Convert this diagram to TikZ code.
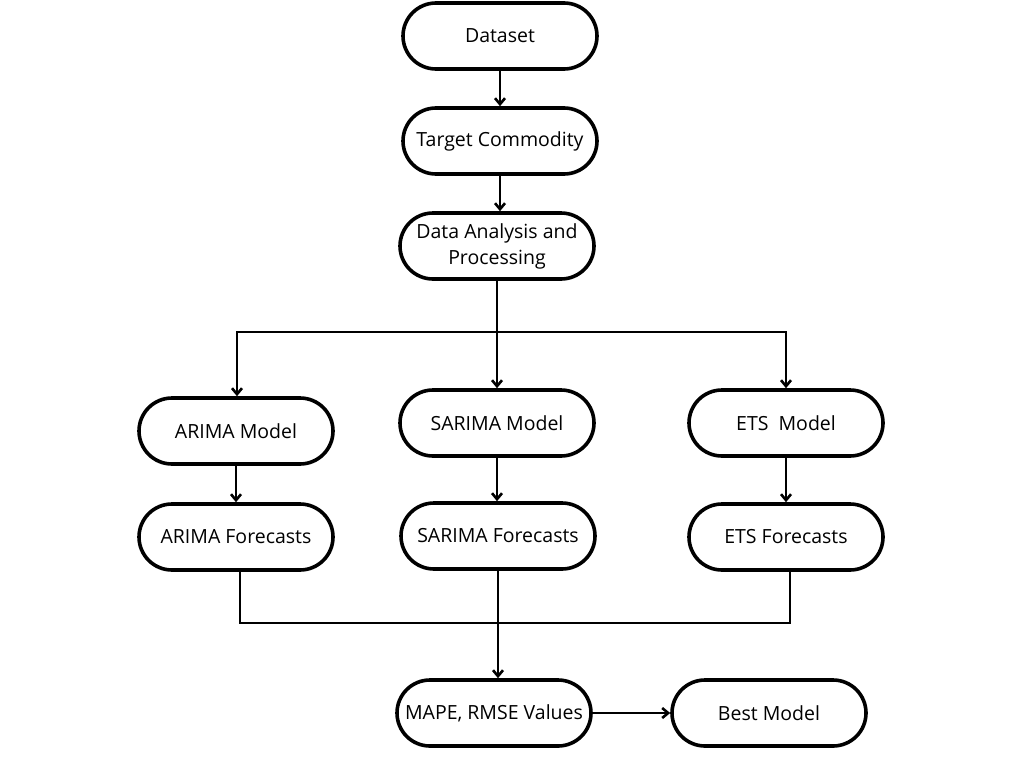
\documentclass[tikz,border=0pt]{standalone}
\usepackage{fontspec}
\setmainfont{Open Sans}
\usetikzlibrary{shapes.misc,arrows.meta}
\begin{document}
\begin{tikzpicture}[x=1pt,y=-1pt,
  stadium/.style={rounded rectangle, draw=black, line width=3.6pt, fill=white,
    minimum width=198pt, minimum height=66pt, inner sep=2pt, align=center,
    font=\fontsize{19.5}{26}\selectfont},
  arr/.style={line width=2.8pt, -{Straight Barb[length=6pt,width=10pt,line width=2.6pt]}},
  ln/.style={line width=2.6pt}]
\useasboundingbox (0,0) rectangle (1024,768);
\fill[white] (0,0) rectangle (1024,768);
\node[stadium] (ds) at (500,36) {Dataset};
\node[stadium] (tc) at (500,141) {Target Commodity};
\node[stadium] (dap) at (497,246) {Data Analysis and\\Processing};
\node[stadium] (arima) at (236,431) {ARIMA Model};
\node[stadium] (sarima) at (497,423) {SARIMA Model};
\node[stadium] (ets) at (786,423) {ETS~ Model};
\node[stadium] (af) at (236,537) {ARIMA Forecasts};
\node[stadium] (sf) at (498,536) {SARIMA Forecasts};
\node[stadium] (ef) at (786,537) {ETS Forecasts};
\node[stadium] (mape) at (494,713) {MAPE, RMSE Values};
\node[stadium] (best) at (769,713) {Best Model};
\coordinate (split) at (497,332);
\coordinate (merge) at (497,623);
\draw[arr] (ds.south) -- (tc.north);
\draw[arr] (tc.south) -- (tc.south |- dap.north);
\draw[arr] (dap.south) -- (sarima.north);
\draw[arr] (split) -| ([xshift=1pt]arima.north);
\draw[arr] (split) -| (ets.north);
\draw[arr] (arima.south) -- (af.north);
\draw[arr] (sarima.south) -- (sarima.south |- sf.north);
\draw[arr] (ets.south) -- (ef.north);
\draw[ln] ([xshift=4pt]af.south) |- (merge);
\draw[ln] ([xshift=4pt]ef.south) |- (merge);
\draw[arr] (sf.south) -- (sf.south |- mape.north);
\draw[arr] (mape.east) -- (best.west);
\end{tikzpicture}
\end{document}
